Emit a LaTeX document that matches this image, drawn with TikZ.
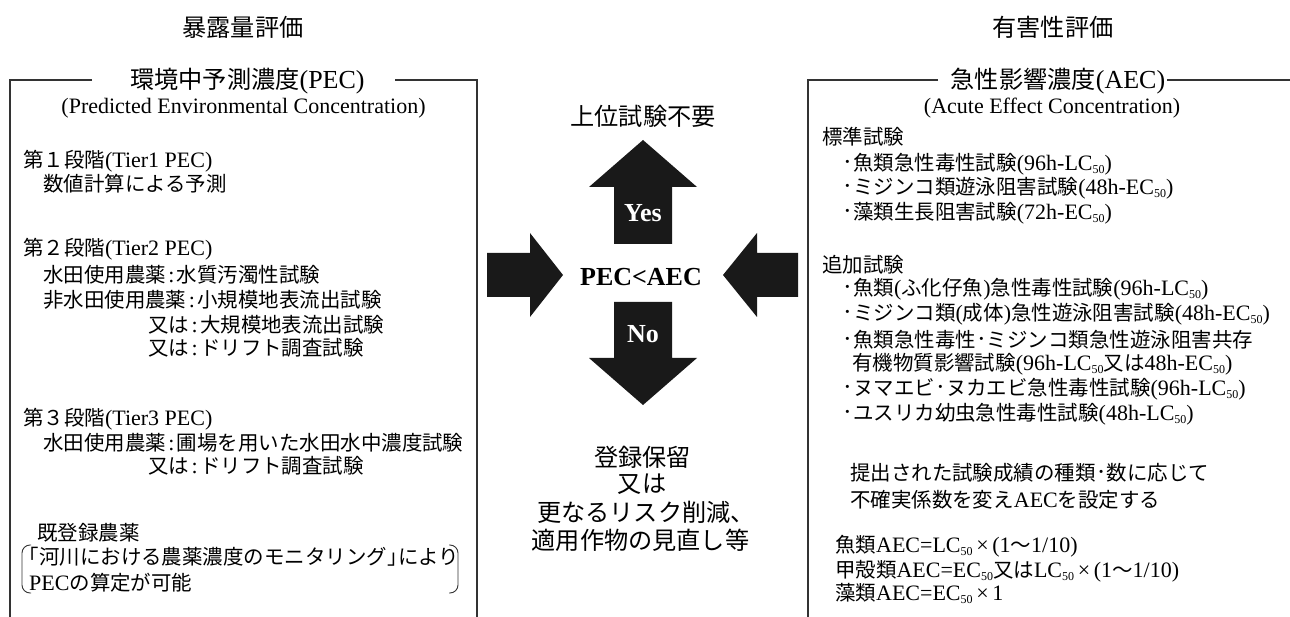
\documentclass[tikz,border=0pt]{standalone}
\usepackage{fontspec}
\setmainfont{Liberation Serif}
\newfontfamily\jpfont[Scale=0.93]{Noto Sans CJK JP}
\newcount\jpcnt
\newXeTeXintercharclass\jpclass
\def\setjprange#1#2{\jpcnt=#1\relax\loop\XeTeXcharclass\jpcnt=\jpclass\relax\ifnum\jpcnt<#2\relax\advance\jpcnt by 1\relax\repeat}
\setjprange{"3000}{"30FF}
\setjprange{"4E00}{"9FFF}
\setjprange{"FF01}{"FF5E}
\XeTeXinterchartoks 0 \jpclass = {\jpfont}
\XeTeXinterchartoks 4095 \jpclass = {\jpfont}
\XeTeXinterchartoks \jpclass 0 = {\rmfamily}
\XeTeXinterchartoks \jpclass 4095 = {\rmfamily}
\XeTeXinterchartokenstate=1
\newcommand\lowsub[1]{\raisebox{-0.25ex}{\rmfamily\fontsize{12}{12}\selectfont #1}}
\newcommand\cl{\makebox[0.5em]{\rmfamily:}}
\newcommand\bul{\makebox[10pt][l]{\rmfamily\fontsize{26}{26}\selectfont·}}
\newcommand\md{\makebox[11pt]{\rmfamily\fontsize{26}{26}\selectfont·}}
\definecolor{frame}{gray}{0.2}
\tikzset{
  body/.style={anchor=base west, inner sep=0pt, font=\fontsize{22}{26}\selectfont},
  ttl/.style={anchor=base, inner sep=0pt, font=\fontsize{26}{30}\selectfont},
  sub/.style={anchor=base, inner sep=0pt, font=\fontsize{22}{26}\selectfont},
  bold/.style={anchor=base, inner sep=0pt, font=\fontsize{26}{30}\selectfont\bfseries},
  framel/.style={draw=frame, line width=1.5pt},
  brk/.style={draw=frame, line width=0.9pt, rounded corners=8pt},
  bigarrow/.style={fill=black!90, draw=none}
}
\begin{document}
\begin{tikzpicture}[x=1pt, y=-1pt]
\useasboundingbox (0,0) rectangle (1290,617);

% ---------- headings ----------
\node[ttl] (hexp) at (243,37) {暴露量評価};
\node[ttl] (hhaz) at (1053,37) {有害性評価};

% ---------- left frame ----------
\node[ttl] (pec) at (247.5,89) {環境中予測濃度(PEC)};
\node[sub] (pecen) at (243.5,114) {(Predicted Environmental Concentration)};
\coordinate (l1) at (92,80);
\coordinate (l2) at (10,80);
\coordinate (l3) at (10,617);
\coordinate (r1) at (395,80);
\coordinate (r2) at (477,80);
\coordinate (r3) at (477,617);
\draw[framel] (l1) -- (l2) -- (l3);
\draw[framel] (r1) -- (r2) -- (r3);

\node[body] (t1)  at (23,167.5)  {第１段階(Tier1 PEC)};
\node[body] (t1a) at (43,191.5)  {数値計算による予測};
\node[body] (t2)  at (23,255.5)  {第２段階(Tier2 PEC)};
\node[body] (t2a) at (43,282.5)  {水田使用農薬\cl 水質汚濁性試験};
\node[body] (t2b) at (43,307.5)  {非水田使用農薬\cl 小規模地表流出試験};
\node[body] (t2c) at (148,332.5) {又は\cl 大規模地表流出試験};
\node[body] (t2d) at (148,355.5) {又は\cl ドリフト調査試験};
\node[body] (t3)  at (23,425.5)  {第３段階(Tier3 PEC)};
\node[body] (t3a) at (43,450.5)  {水田使用農薬\cl 圃場を用いた水田水中濃度試験};
\node[body] (t3b) at (148,473.5) {又は\cl ドリフト調査試験};
\node[body] (k0)  at (37,540.5)  {既登録農薬};
\node[body] (k1)  at (28,564.5)  {\makebox[0.5em][r]{「}河川における農薬濃度のモニタリング\makebox[0.5em][l]{」}により};
\node[body] (k2)  at (29,590.5)  {PECの算定が可能};
\draw[brk] (31,545) -- (22,545) -- (22,593) -- (31,593);
\draw[brk] (449,545) -- (458,545) -- (458,593) -- (449,593);

% ---------- right frame ----------
\node[ttl] (aec) at (1058,89) {急性影響濃度(AEC)};
\node[sub] (aecen) at (1052,114) {(Acute Effect Concentration)};
\coordinate (m1) at (938,80);
\coordinate (m2) at (808,80);
\coordinate (m3) at (808,617);
\coordinate (n1) at (1167,80);
\coordinate (n2) at (1290,80);
\draw[framel] (m1) -- (m2) -- (m3);
\draw[framel] (n1) -- (n2);

\node[body] (s0) at (822,144.5) {標準試験};
\node[body] (s1) at (843,170.5) {\bul 魚類急性毒性試験(96h-LC\lowsub{50})};
\node[body] (s2) at (843,194.5) {\bul ミジンコ類遊泳阻害試験(48h-EC\lowsub{50})};
\node[body] (s3) at (843,219.5) {\bul 藻類生長阻害試験(72h-EC\lowsub{50})};
\node[body] (a0) at (822,272.5) {追加試験};
\node[body] (a1) at (843,295.5) {\bul 魚類(ふ化仔魚)急性毒性試験(96h-LC\lowsub{50})};
\node[body] (a2) at (843,320.5) {\bul ミジンコ類(成体)急性遊泳阻害試験(48h-EC\lowsub{50})};
\node[body] (a3) at (843,347.5) {\bul 魚類急性毒性\md ミジンコ類急性遊泳阻害共存};
\node[body] (a3b) at (852,370.5) {有機物質影響試験(96h-LC\lowsub{50}又は48h-EC\lowsub{50})};
\node[body] (a4) at (843,395.5) {\bul ヌマエビ\md ヌカエビ急性毒性試験(96h-LC\lowsub{50})};
\node[body] (a5) at (843,420.5) {\bul ユスリカ幼虫急性毒性試験(48h-LC\lowsub{50})};
\node[body] (u1) at (850,480.5) {提出された試験成績の種類\md 数に応じて};
\node[body] (u2) at (850,507.5) {不確実係数を変えAECを設定する};
\node[body] (f1) at (835,552.5) {魚類AEC=LC\lowsub{50}\,×\,(1〜1/10)};
\node[body] (f2) at (835,577.5) {甲殻類AEC=EC\lowsub{50}又はLC\lowsub{50}\,×\,(1〜1/10)};
\node[body] (f3) at (835,600.5) {藻類AEC=EC\lowsub{50}\,×\,1};

% ---------- centre ----------
\node[ttl] (up) at (643,126) {上位試験不要};
\fill[bigarrow] (614,244) -- (614,187) -- (589,187) -- (643,140) -- (697,187) -- (672,187) -- (672,244) -- cycle;
\fill[bigarrow] (614,302) -- (672,302) -- (672,358) -- (697,358) -- (643,405) -- (589,358) -- (614,358) -- cycle;
\fill[bigarrow] (487,253) -- (530,253) -- (530,233) -- (563,275) -- (530,317) -- (530,297) -- (487,297) -- cycle;
\fill[bigarrow] (798,253) -- (757,253) -- (757,233) -- (723,275) -- (757,317) -- (757,297) -- (798,297) -- cycle;
\node[bold, text=white] (yes) at (643,221.5) {Yes};
\node[bold, text=white] (no) at (643,343) {No};
\node[bold] (cmp) at (641,285.5) {PEC<AEC};

\node[ttl] (d1) at (642.5,466) {登録保留};
\node[ttl] (d2) at (642,492) {又は};
\node[ttl] (d3) at (646,521) {更なるリスク削減、};
\node[ttl] (d4) at (640.5,549) {適用作物の見直し等};
\end{tikzpicture}
\end{document}
